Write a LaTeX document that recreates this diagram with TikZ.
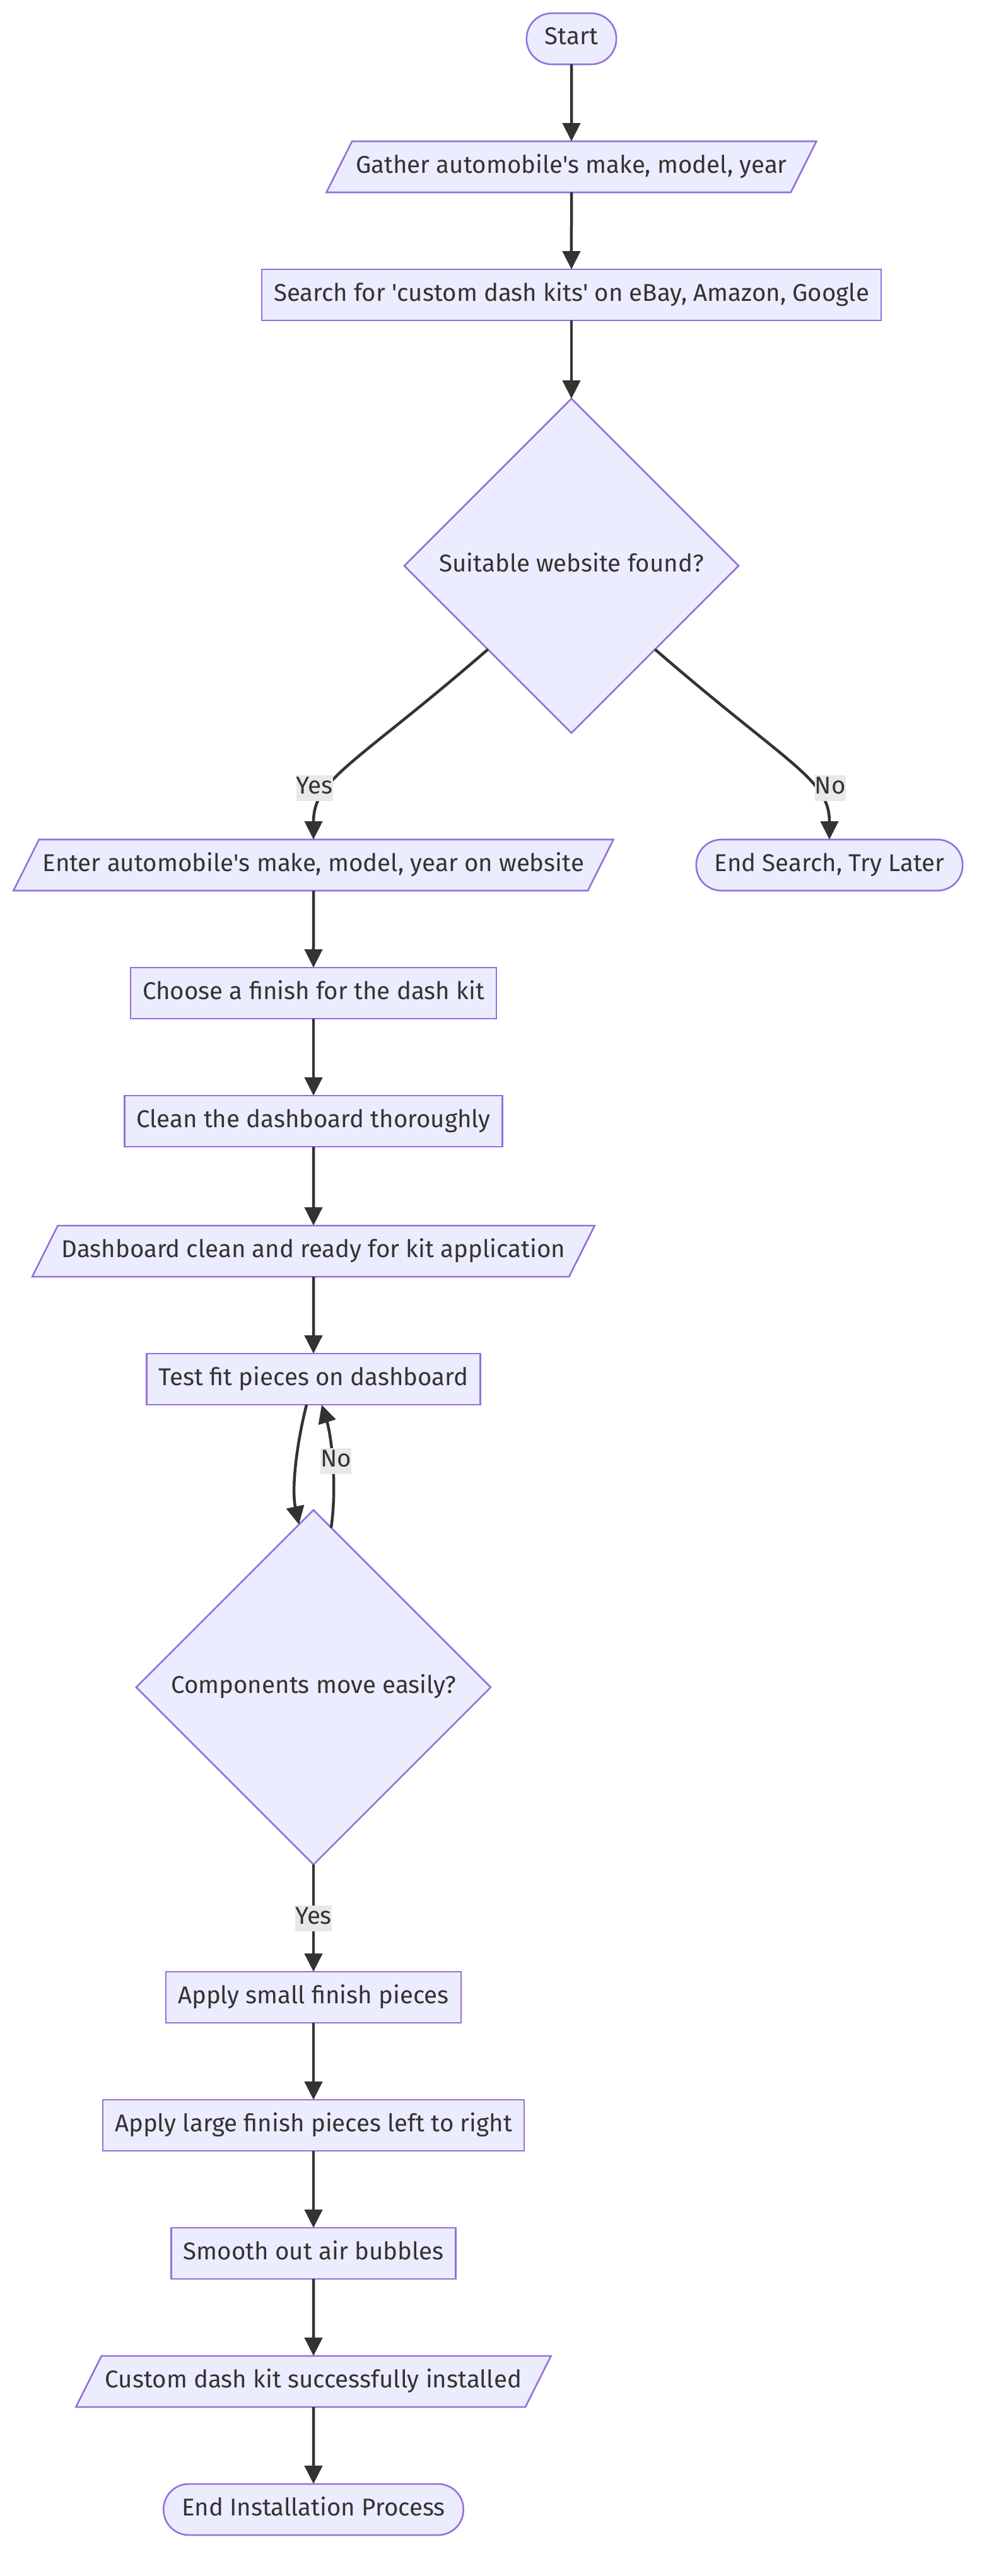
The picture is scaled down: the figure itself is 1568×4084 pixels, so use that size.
\documentclass[tikz,border=0pt]{standalone}
\usepackage{fontspec}
\setmainfont{Fira Sans}
\usetikzlibrary{arrows.meta,positioning,shapes.geometric}
\definecolor{boxfill}{HTML}{ECECFF}
\definecolor{boxline}{HTML}{9370DB}
\definecolor{flowgray}{HTML}{333333}
\definecolor{labelgray}{HTML}{E8E8E8}

\begin{document}
\begin{tikzpicture}[node distance=122pt,
    every node/.style={font=\fontsize{38.5}{46}\selectfont,text=flowgray,text height=28pt,text depth=9pt,outer sep=0pt},
    procbox/.style={draw=boxline,fill=boxfill,line width=2.6pt,inner ysep=22pt,inner xsep=19pt},
    iobox/.style={procbox,trapezium,trapezium left angle=63.4,trapezium right angle=116.6,inner xsep=6pt},
    termbox/.style={procbox,rounded corners=40pt,inner xsep=29pt},
    decbox/.style={draw=boxline,fill=boxfill,line width=2.6pt,diamond,inner sep=0pt},
    flow/.style={draw=flowgray,line width=4.5pt,-{Triangle[length=29pt,width=28pt]}},
    lbl/.style={fill=labelgray,inner xsep=0pt,inner ysep=2pt}]
    \useasboundingbox (0pt,0pt) rectangle (1568pt,-4084pt);
    % search part
    \node[termbox] (start) at (906pt,-61.5pt) {Start};
    \node[iobox,below=of start] (gather) {Gather automobile\textquotesingle s make, model, year};
    \node[procbox,below=of gather] (search) {Search for \textquotesingle custom dash kits\textquotesingle{} on eBay, Amazon, Google};
    \node[decbox,minimum size=530pt,below=124pt of search] (site) {Suitable website found?};
    \node[iobox,below=169pt of site,xshift=-409pt] (enter) {Enter automobile\textquotesingle s make, model, year on website};
    \node[termbox,below=169pt of site,xshift=409pt] (giveup) {End Search, Try Later};
    % preparing the dash
    \node[procbox,below=of enter] (finish) {Choose a finish for the dash kit};
    \node[procbox,below=of finish] (clean) {Clean the dashboard thoroughly};
    \node[iobox,below=125pt of clean] (ready) {Dashboard clean and ready for kit application};
    \node[procbox,below=of ready] (testfit) {Test fit pieces on dashboard};
    \node[decbox,minimum size=562pt,below=167pt of testfit] (moves) {Components move easily?};
    % applying the kit
    \node[procbox,below=170pt of moves] (small) {Apply small finish pieces};
    \node[procbox,below=of small] (large) {Apply large finish pieces left to right};
    \node[procbox,below=of large] (smooth) {Smooth out air bubbles};
    \node[iobox,below=of smooth] (done) {Custom dash kit successfully installed};
    \node[termbox,below=of done] (stop) {End Installation Process};
    % flows
    \draw[flow] (start) -- (gather);
    \draw[flow] (gather) -- (search);
    \draw[flow] (search) -- (site);
    \draw[flow] (site.south west) .. controls +(-211pt,-183pt) and +(0pt,96pt) .. node[lbl,pos=0.66,xshift=-24pt]{Yes} (enter.north);
    \draw[flow] (site.south east) .. controls +(211pt,-183pt) and +(0pt,96pt) .. node[lbl,pos=0.66,xshift=27pt]{No} (giveup.north);
    \draw[flow] (enter) -- (finish);
    \draw[flow] (finish) -- (clean);
    \draw[flow] (clean) -- (ready);
    \draw[flow] (ready) -- (testfit);
    \draw[flow] ([xshift=-11pt]testfit.south) .. controls +(-16pt,-63pt) and +(-12pt,57pt) .. ([xshift=-23pt,yshift=-23pt]moves.north);
    \draw[flow] ([xshift=28pt,yshift=-28pt]moves.north) .. controls +(10pt,70pt) and +(15pt,-48pt) .. node[lbl,pos=0.5,xshift=6pt]{No} ([xshift=13pt]testfit.south);
    \draw[flow] (moves) -- node[lbl]{Yes} (small);
    \draw[flow] (small) -- (large);
    \draw[flow] (large) -- (smooth);
    \draw[flow] (smooth) -- (done);
    \draw[flow] (done) -- (stop);
\end{tikzpicture}
\end{document}
